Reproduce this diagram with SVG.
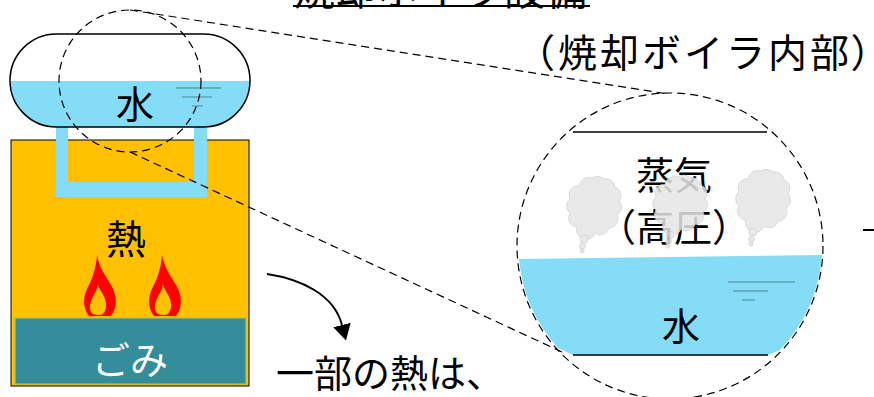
<svg xmlns="http://www.w3.org/2000/svg" xmlns:xlink="http://www.w3.org/1999/xlink" width="874" height="397" viewBox="0 0 874 397">
  <style>
    .jp { font-family: "Noto Sans CJK JP", "Noto Sans", sans-serif; fill: #000; dominant-baseline: central; }
    .mid { text-anchor: middle; }
    .water { fill: #84DCF7; }
    .wave { stroke: #5C9FB0; stroke-width: 1.4; fill: none; }
    .outline { fill: none; stroke: #000; stroke-width: 1.5; }
    .dash { fill: none; stroke: #000; stroke-width: 1.2; stroke-dasharray: 8 5; }
    .cloud { fill: #E6E6E6; stroke: #D4D4D4; stroke-width: 1; opacity: 0.85; }
    .flame-out { fill: #FF0000; }
    .flame-in { fill: #FFC000; }
  </style>
  <defs>
    <clipPath id="drum-clip">
      <rect x="10" y="34" width="240" height="93" rx="46.5" ry="46.5"/>
    </clipPath>
    <g id="flame">
      <path class="flame-out" d="M14 0 C16 12 22 20 28 30 C34 40 35 52 28 61 L6 61 C-1 52 0 40 6 30 C10 22 13 12 14 0 Z"/>
      <path class="flame-in" d="M15 27 C14 34 22 39 23 48 C24 56 20 60 17 60 L14 60 C9 60 6 56 7 50 C8 42 15 37 15 27 Z"/>
    </g>
    <g id="cloud-shape">
      <path d="M10 52 A9 9 0 0 1 3 38 A9 9 0 0 1 3 24 A9 9 0 0 1 12 11 A10 10 0 0 1 25 3 A10 10 0 0 1 37 4 A9 9 0 0 1 48 12 A9 9 0 0 1 52 26 A9 9 0 0 1 50 40 A9 9 0 0 1 42 53 A9 9 0 0 1 28 58 A9 9 0 0 1 10 52 Z"/>
      <circle cx="17" cy="64" r="4"/>
      <circle cx="15.5" cy="71" r="3"/>
      <circle cx="15" cy="76" r="2"/>
    </g>
    <marker id="arrowhead" markerWidth="8" markerHeight="9" refX="0" refY="4.5" orient="auto" markerUnits="strokeWidth">
      <path d="M0 0 L8 4.5 L0 9 Z" fill="#000"/>
    </marker>
  </defs>

  <rect width="874" height="397" fill="#fff"/>

  <!-- heading (runs off the top edge) -->
  <g id="title">
    <text class="jp mid" x="441" y="-13" font-size="41" letter-spacing="1">焼却ボイラ設備</text>
    <line x1="293" y1="6" x2="590" y2="6" stroke="#000" stroke-width="2"/>
  </g>

  <!-- furnace body -->
  <g id="furnace">
    <rect x="11" y="140" width="238" height="246" fill="#FFC000" stroke="#000" stroke-width="1"/>
    <text class="jp mid" x="126" y="237" font-size="40">熱</text>
  </g>

  <!-- burning refuse -->
  <g id="garbage">
    <rect x="15" y="318" width="231" height="66" fill="#358C9B" stroke="#A8C25A" stroke-width="1.2"/>
    <text class="jp mid" x="130" y="357" font-size="38" style="fill:#fff">ごみ</text>
  </g>

  <g id="flames">
    <use xlink:href="#flame" href="#flame" transform="translate(83 255)"/>
    <use xlink:href="#flame" href="#flame" transform="translate(148 255)"/>
  </g>

  <!-- water tube loop through the furnace -->
  <g id="tube">
    <path class="water" d="M56 126 L68 126 L68 182 L194 182 L194 126 L207 126 L207 197 L56 197 Z"/>
  </g>

  <!-- steam drum -->
  <g id="drum">
    <rect x="10" y="34" width="240" height="93" rx="46.5" ry="46.5" fill="#fff"/>
    <rect class="water" x="10" y="81" width="240" height="46" clip-path="url(#drum-clip)"/>
    <rect class="outline" x="10" y="34" width="240" height="93" rx="46.5" ry="46.5"/>
    <text class="jp mid" x="135" y="101" font-size="38">水</text>
    <line class="wave" x1="176" y1="88" x2="221" y2="88"/>
    <line class="wave" x1="182" y1="97" x2="212" y2="97"/>
    <line class="wave" x1="192" y1="106" x2="203" y2="106"/>
  </g>

  <!-- magnified view of the drum -->
  <g id="detail">
    <text class="jp" x="516" y="50" font-size="39" letter-spacing="3">（焼却ボイラ内部<tspan letter-spacing="0" style="font-feature-settings:'palt'">）</tspan></text>
    <path class="water" d="M519 259 L822 255 A153 153 0 0 1 780 350 L768 355 L573 355 L558 348 A153 153 0 0 1 519 259 Z"/>
    <line x1="573" y1="132" x2="767" y2="132" stroke="#000" stroke-width="1.5"/>
    <line x1="573" y1="355" x2="768" y2="355" stroke="#000" stroke-width="1.5"/>
    <line class="wave" x1="728" y1="282" x2="795" y2="282"/>
    <line class="wave" x1="733" y1="291" x2="768" y2="291"/>
    <line class="wave" x1="742" y1="300" x2="755" y2="300"/>
    <text class="jp mid" x="681" y="323" font-size="38">水</text>
    <text class="jp mid" x="674" y="172" font-size="38">蒸気</text>
    <text class="jp mid" x="674" y="224" font-size="38">（高圧）</text>
    <use class="cloud" xlink:href="#cloud-shape" href="#cloud-shape" transform="translate(567 175)"/>
    <use class="cloud" xlink:href="#cloud-shape" href="#cloud-shape" transform="translate(653 174) scale(1 0.95)"/>
    <use class="cloud" xlink:href="#cloud-shape" href="#cloud-shape" transform="translate(736 168)"/>
    <circle class="dash" cx="670" cy="246" r="153"/>
  </g>

  <g id="zoom-ring">
    <circle class="dash" cx="130" cy="81" r="71"/>
  </g>

  <g id="connectors">
    <line class="dash" x1="130" y1="10" x2="668" y2="94"/>
    <line class="dash" x1="130" y1="152" x2="562" y2="352"/>
    <path d="M267 274 C300 279 334 294 342 325" fill="none" stroke="#000" stroke-width="2" marker-end="url(#arrowhead)"/>
    <line x1="863" y1="230" x2="874" y2="230" stroke="#000" stroke-width="2"/>
  </g>

  <g id="caption">
    <text class="jp" x="276" y="370" font-size="38">一部の熱は、</text>
  </g>
</svg>
